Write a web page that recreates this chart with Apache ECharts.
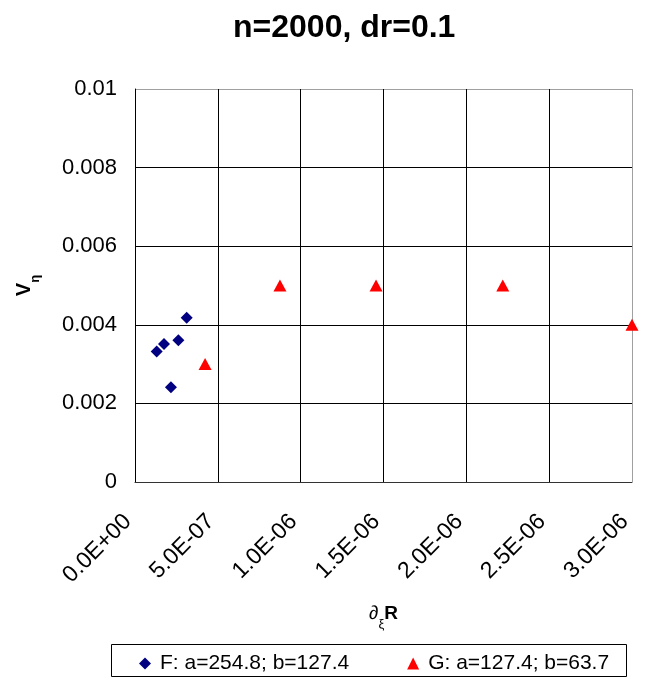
<!DOCTYPE html>
<html>
<head>
<meta charset="utf-8">
<script src="https://cdn.jsdelivr.net/npm/echarts@6/dist/echarts.min.js"></script>
<style>
  html, body { margin: 0; padding: 0; background: #fff; }
  #chart { width: 649px; height: 680px; }
</style>
</head>
<body>
<div id="chart"></div>
<script>
// Series F: a=254.8; b=127.4
const fX = [1.31e-7, 1.75e-7, 2.17e-7, 2.62e-7, 3.12e-7];
const fY = [0.00332, 0.00351, 0.00241, 0.00361, 0.00418];
// Series G: a=127.4; b=63.7
const gX = [4.23e-7, 8.75e-7, 1.455e-6, 2.22e-6, 3.0e-6];
const gY = [0.0030, 0.0050, 0.0050, 0.0050, 0.0040];

const xTickLabels = ['0.0E+00', '5.0E-07', '1.0E-06', '1.5E-06', '2.0E-06', '2.5E-06', '3.0E-06'];
const seriesNames = ['F: a=254.8; b=127.4', 'G: a=127.4; b=63.7'];

const FONT = '"Liberation Sans", Arial, sans-serif';
const pair = (xs, ys) => xs.map((x, i) => [x, ys[i]]);

const chart = echarts.init(document.getElementById('chart'), null, { renderer: 'canvas' });

chart.setOption({
  backgroundColor: '#fff',
  animation: false,
  textStyle: { fontFamily: FONT, color: '#000' },
  title: {
    text: 'n=2000, dr=0.1',
    left: 228,
    top: 7,
    textStyle: { fontFamily: FONT, fontSize: 32, fontWeight: 'bold', color: '#000' }
  },
  grid: {
    left: 135, right: 17, top: 89, bottom: 198,
    containLabel: false,
    outerBoundsMode: 'none'
  },
  xAxis: {
    type: 'value',
    min: 0, max: 3e-6, interval: 5e-7,
    name: '{d|∂}{s|ξ}{r|R}',
    nameLocation: 'middle',
    nameGap: 122,
    nameTextStyle: {
      rich: {
        d: { fontFamily: FONT, fontSize: 19, fontStyle: 'italic', color: '#000' },
        s: { fontFamily: FONT, fontSize: 13, color: '#000', verticalAlign: 'bottom', padding: [0, 0, -8, 0] },
        r: { fontFamily: FONT, fontSize: 19, fontWeight: 'bold', color: '#000' }
      }
    },
    axisLine: { show: true, onZero: false, lineStyle: { color: '#333', width: 1 } },
    axisTick: { show: false },
    axisLabel: {
      rotate: 45,
      margin: 29,
      padding: [0, 10, 0, 0],
      fontFamily: FONT,
      fontSize: 23,
      color: '#000',
      formatter: v => xTickLabels[Math.round(v / 5e-7)] || ''
    },
    splitLine: {
      show: true,
      lineStyle: { color: ['#000', '#000', '#000', '#000', '#000', '#000', '#a0a0a0'], width: 1 }
    }
  },
  yAxis: {
    type: 'value',
    min: 0, max: 0.01, interval: 0.002,
    name: '{v|V}{s|η}',
    nameLocation: 'middle',
    nameRotate: 90,
    nameGap: 101,
    nameTextStyle: {
      rich: {
        v: { fontFamily: FONT, fontSize: 20, fontWeight: 'bold', color: '#000' },
        s: { fontFamily: FONT, fontSize: 13, fontWeight: 'bold', color: '#000', verticalAlign: 'bottom', padding: [0, 0, -8, 0] }
      }
    },
    axisLine: { show: true, onZero: false, lineStyle: { color: '#000', width: 1 } },
    axisTick: { show: false },
    axisLabel: {
      margin: 18,
      fontFamily: FONT,
      fontSize: 22,
      color: '#000',
      formatter: v => String(parseFloat(v.toFixed(4)))
    },
    splitLine: {
      show: true,
      lineStyle: { color: ['#000', '#000', '#000', '#000', '#000', '#a0a0a0'], width: 1 }
    }
  },
  legend: {
    left: 134,
    top: 648,
    itemGap: 58,
    itemWidth: 12,
    itemHeight: 12,
    textStyle: { fontFamily: FONT, fontSize: 21, color: '#000', padding: [0, 0, 0, 4] },
    data: [
      { name: seriesNames[0], icon: 'diamond', itemStyle: { opacity: 1 } },
      { name: seriesNames[1], icon: 'triangle', itemStyle: { opacity: 1 } }
    ]
  },
  graphic: [
    {
      type: 'rect',
      shape: { x: 111.5, y: 644.5, width: 515, height: 32 },
      style: { fill: 'none', stroke: '#000', lineWidth: 1 },
      silent: true
    }
  ],
  series: [
    {
      name: seriesNames[0],
      type: 'scatter',
      symbol: 'diamond',
      symbolSize: [12, 12],
      itemStyle: { color: '#000080', opacity: 1 },
      data: pair(fX, fY),
      z: 3
    },
    {
      name: seriesNames[1],
      type: 'scatter',
      symbol: 'triangle',
      symbolSize: [13, 12],
      itemStyle: { color: '#ff0000', opacity: 1 },
      data: pair(gX, gY),
      z: 3
    }
  ]
});
</script>
</body>
</html>
